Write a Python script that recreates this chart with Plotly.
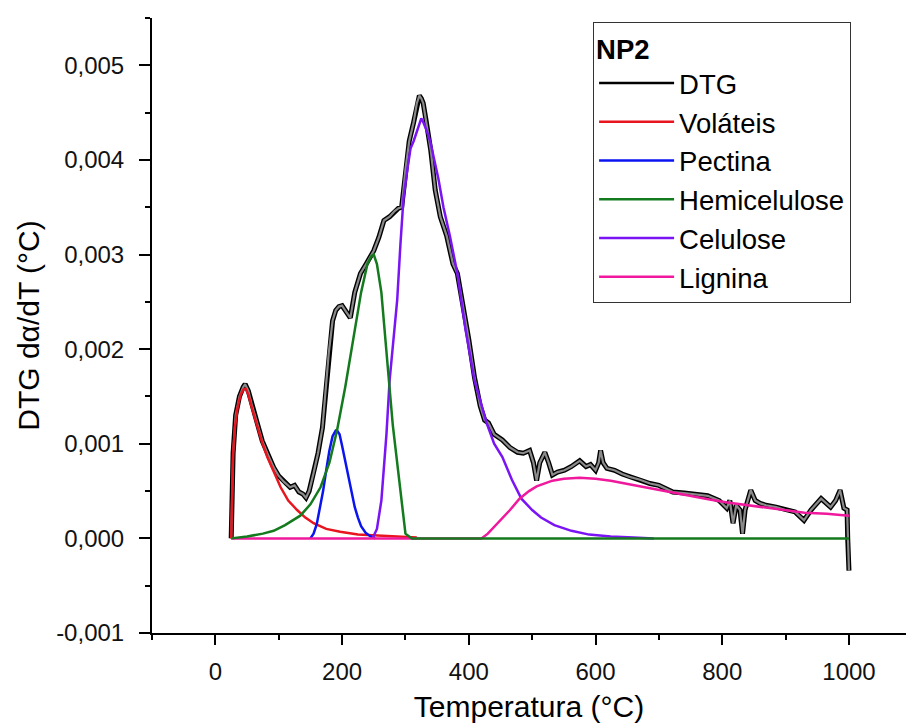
import plotly.graph_objects as go

# ---------------- data ----------------
dtg_T = [25, 25.5, 28, 32, 38, 44, 47, 52, 58, 66, 74, 82, 92, 100, 108, 118, 125, 132, 138, 143, 148,
         155, 162, 169, 175, 179, 185, 190, 195, 200, 206, 213, 220, 229, 238, 250, 258, 266, 275, 283,
         289, 294, 300, 306, 313, 318, 322, 325, 328, 333, 340, 347, 355, 365, 375, 382, 390, 400, 409,
         418, 425, 431, 440, 453, 465, 477, 486, 496, 502, 507, 512, 520, 526, 532, 540, 551, 562, 575,
         585, 592, 600, 605, 608, 612, 618, 630, 642, 654, 670, 686, 700, 722, 740, 760, 777, 795, 807,
         812, 817, 822, 828, 832, 836, 845, 852, 860, 869, 885, 900, 915, 929, 940, 956, 971, 979, 986,
         992, 997, 998, 1000]
dtg_v = [0.0, 0.00025, 0.0009, 0.0013, 0.0015, 0.0016, 0.00163, 0.00156, 0.0014, 0.00122, 0.00103,
         0.0009, 0.00075, 0.00066, 0.0006, 0.00054, 0.00056, 0.00049, 0.00047, 0.00043, 0.0005,
         0.00069, 0.0009, 0.00117, 0.0016, 0.00196, 0.0023, 0.00241, 0.00245, 0.00246, 0.0024, 0.00233,
         0.0026, 0.0028, 0.0029, 0.00304, 0.00318, 0.00336, 0.0034, 0.00346, 0.00349, 0.0035, 0.0039,
         0.0042, 0.0044, 0.0046, 0.00468, 0.00465, 0.0046, 0.0044, 0.0041, 0.00368, 0.0034, 0.0032,
         0.0029, 0.0028, 0.0025, 0.0021, 0.0017, 0.0014, 0.00125, 0.00122, 0.0011, 0.00104, 0.00096,
         0.00091, 0.0009, 0.00093, 0.0008, 0.00061, 0.0008, 0.00091, 0.0008, 0.00067, 0.0007, 0.00072,
         0.00076, 0.00082, 0.00076, 0.00078, 0.00072, 0.0008, 0.00093, 0.0008, 0.00074, 0.00072,
         0.00068, 0.00065, 0.00062, 0.00058, 0.00056, 0.00049, 0.00048, 0.00046, 0.00045, 0.0004,
         0.00032, 0.0004, 0.00016, 0.00035, 0.0003, 0.00005, 0.0003, 0.00051, 0.0004, 0.00037, 0.00035,
         0.00033, 0.0003, 0.00028, 0.00019, 0.0003, 0.00042, 0.00033, 0.0004, 0.00051, 0.00032, 0.0003,
         0.0, -0.00034]

volateis_T = [25, 26, 28, 31, 35, 40, 45, 48, 52, 58, 66, 74, 82, 92, 103, 115, 129, 142, 155, 175,
              197, 225, 250, 280, 318]
volateis_v = [0.0, 0.0005, 0.0009, 0.00118, 0.00138, 0.00152, 0.00158, 0.00158, 0.00152, 0.00137,
              0.00118, 0.00101, 0.00086, 0.0007, 0.00054, 0.0004, 0.0003, 0.00022, 0.00016, 0.0001,
              0.00007, 0.00004, 0.00003, 0.00002, 0.00001]

pectina_T = [150, 155, 160, 165, 170, 175, 180, 185, 190, 192, 196, 200, 205, 210, 215, 220, 225, 230,
             237, 245, 252]
pectina_v = [0.0, 0.00005, 0.00015, 0.00031, 0.0005, 0.00072, 0.00093, 0.00108, 0.00114, 0.00114,
             0.0011, 0.00098, 0.00082, 0.00064, 0.00047, 0.00033, 0.00022, 0.00013, 0.00006, 0.00002, 0.0]

hemi_T = [25, 50, 75, 92, 110, 134, 150, 166, 180, 192, 205, 218, 230, 240, 246, 250, 255, 262, 268,
          273, 280, 289, 295, 300, 310, 400, 600, 800, 1000]
hemi_v = [0.0, 0.00002, 0.00005, 0.00008, 0.00014, 0.00024, 0.00036, 0.00054, 0.0008, 0.00114, 0.0016,
          0.0021, 0.0026, 0.0029, 0.00298, 0.003, 0.0029, 0.0026, 0.0021, 0.00174, 0.0012, 0.00069,
          0.0003, 0.00005, 0.0, 0.0, 0.0, 0.0, 0.0]

celulose_T = [248, 255, 262, 270, 275, 281, 287, 292, 297, 303, 308, 313, 318, 322, 325, 328, 333, 339,
              345, 352, 360, 370, 382, 395, 409, 420, 428, 440, 453, 468, 483, 500, 514, 535, 562, 590,
              624, 660, 692]
celulose_v = [0.0, 0.0001, 0.0004, 0.0011, 0.00167, 0.0021, 0.00252, 0.0031, 0.0036, 0.0039, 0.00412,
              0.0042, 0.0043, 0.0044, 0.00444, 0.0044, 0.00432, 0.0042, 0.00403, 0.0038, 0.0035, 0.0032,
              0.0028, 0.0022, 0.00167, 0.0014, 0.00122, 0.001, 0.00086, 0.00062, 0.00042, 0.0003,
              0.00022, 0.00014, 0.00008, 0.00004, 0.00002, 0.00001, 0.0]

lignina_T = [25, 420, 430, 440, 453, 465, 480, 495, 507, 520, 532, 550, 575, 600, 624, 655, 686, 720,
             747, 780, 808, 840, 869, 900, 930, 965, 1000]
lignina_v = [0.0, 0.0, 0.00005, 0.00012, 0.00022, 0.0003, 0.00042, 0.0005, 0.00055, 0.00058, 0.00061,
             0.00063, 0.00064, 0.00063, 0.00061, 0.00057, 0.00053, 0.00049, 0.00045, 0.00041, 0.00038,
             0.00035, 0.00033, 0.0003, 0.00027, 0.00026, 0.00024]

x_tickvals = [0, 200, 400, 600, 800, 1000]
x_ticktext = ["0", "200", "400", "600", "800", "1000"]
y_tickvals = [-0.001, 0.0, 0.001, 0.002, 0.003, 0.004, 0.005]
y_ticktext = ["-0,001", "0,000", "0,001", "0,002", "0,003", "0,004", "0,005"]

FONT = "Liberation Sans, Arial, sans-serif"
LW = 2.5

fig = go.Figure()

# DTG: black outline with grey core
fig.add_trace(go.Scatter(x=dtg_T, y=dtg_v, mode="lines", line=dict(color="black", width=5),
                         showlegend=False, hoverinfo="skip"))
fig.add_trace(go.Scatter(x=dtg_T, y=dtg_v, mode="lines", line=dict(color="#8a8a8a", width=2.2),
                         showlegend=False, hoverinfo="skip"))
fig.add_trace(go.Scatter(x=[None], y=[None], mode="lines", name="DTG",
                         line=dict(color="black", width=LW), legendrank=1))

fig.add_trace(go.Scatter(x=volateis_T, y=volateis_v, mode="lines", name="Voláteis",
                         line=dict(color="#e8141e", width=LW), legendrank=2))
fig.add_trace(go.Scatter(x=pectina_T, y=pectina_v, mode="lines", name="Pectina",
                         line=dict(color="#0a14f0", width=LW), legendrank=3))
fig.add_trace(go.Scatter(x=celulose_T, y=celulose_v, mode="lines", name="Celulose",
                         line=dict(color="#7a14f5", width=LW), legendrank=5))
fig.add_trace(go.Scatter(x=lignina_T, y=lignina_v, mode="lines", name="Lignina",
                         line=dict(color="#f0189c", width=LW), legendrank=6))
fig.add_trace(go.Scatter(x=hemi_T, y=hemi_v, mode="lines", name="Hemicelulose",
                         line=dict(color="#147a1e", width=LW), legendrank=4))

fig.update_layout(
    width=906, height=724,
    margin=dict(l=152, r=0, t=18, b=91),
    paper_bgcolor="white", plot_bgcolor="white",
    font=dict(family=FONT, color="black"),
    showlegend=True,
    legend=dict(
        x=0.585, y=0.9935, xanchor="left", yanchor="top",
        bordercolor="#333333", borderwidth=1, bgcolor="white",
        font=dict(size=27.5, family=FONT, color="black"),
        title=dict(text="<b>NP2</b>", font=dict(size=27.5, family=FONT, color="black")),
        itemwidth=75, tracegroupgap=0,
    ),
    xaxis=dict(
        range=[-100, 1090], showgrid=False, zeroline=False,
        showline=True, linecolor="black", linewidth=2,
        tickmode="array", tickvals=x_tickvals, ticktext=x_ticktext,
        ticks="outside", ticklen=10, tickwidth=2, tickcolor="black",
        tickfont=dict(size=24, family=FONT, color="#111111"),
        ticklabelstandoff=6,
        minor=dict(tickmode="linear", tick0=0, dtick=100, ticks="outside", ticklen=5,
                   tickwidth=2, tickcolor="black", showgrid=False),
        title=dict(text="Temperatura (°C)", font=dict(size=30, family=FONT, color="black"),
                   standoff=12),
    ),
    yaxis=dict(
        range=[-0.001, 0.0055], showgrid=False, zeroline=False,
        showline=True, linecolor="black", linewidth=2,
        tickmode="array", tickvals=y_tickvals, ticktext=y_ticktext,
        ticks="outside", ticklen=11, tickwidth=2, tickcolor="black",
        tickfont=dict(size=24, family=FONT, color="#111111"),
        ticklabelstandoff=10,
        minor=dict(tickmode="linear", tick0=0, dtick=0.0005, ticks="outside", ticklen=5,
                   tickwidth=2, tickcolor="black", showgrid=False),
        title=dict(text="DTG dα/dT (°C)", font=dict(size=30, family=FONT, color="black"),
                   standoff=8),
    ),
)

fig.write_html("out.html")
